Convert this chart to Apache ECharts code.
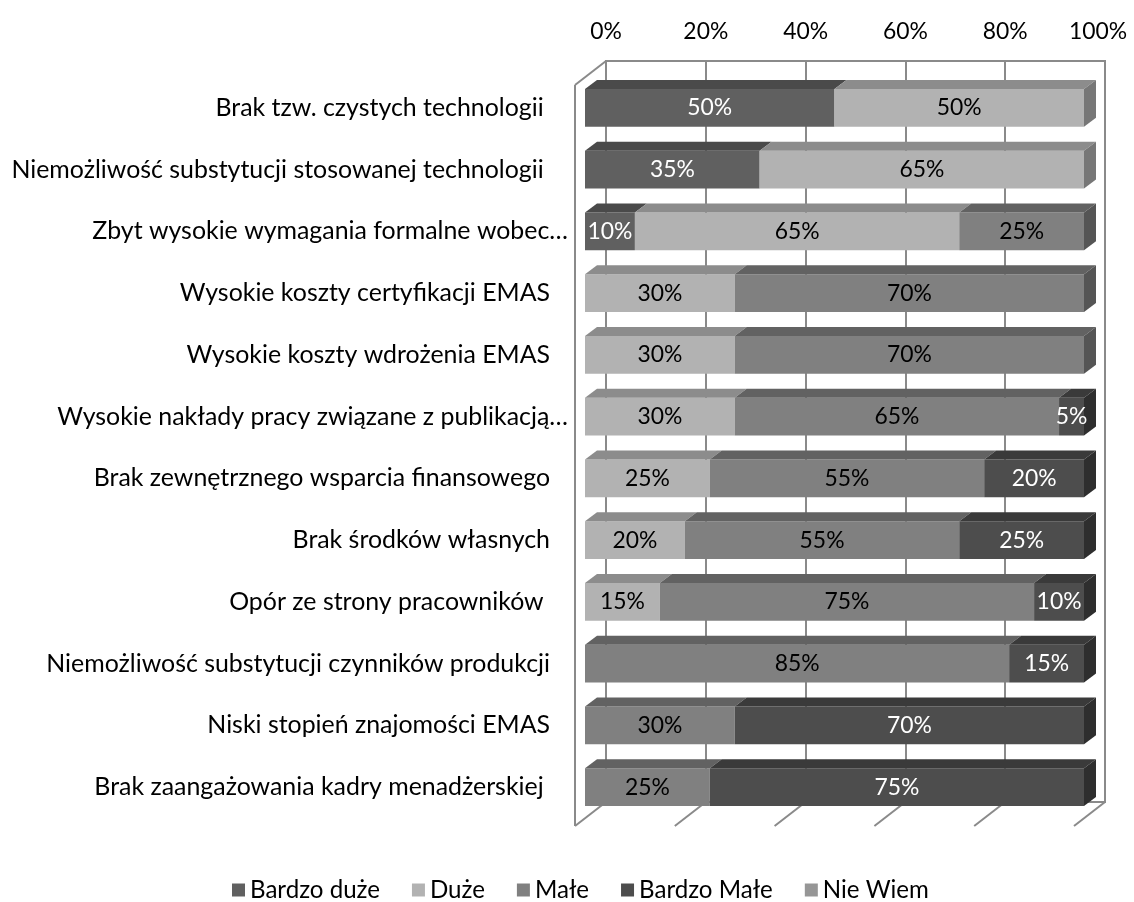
<!DOCTYPE html>
<html>
<head>
<meta charset="utf-8">
<script src="https://cdn.jsdelivr.net/npm/echarts@6/dist/echarts.min.js"></script>
<style>
html,body{margin:0;padding:0;background:#fff;}
#chart{width:1134px;height:902px;}
</style>
</head>
<body>
<div id="chart"></div>
<script>
// ---------- data ----------
const categories = [
  'Brak tzw. czystych technologii ',
  'Niemożliwość substytucji stosowanej technologii ',
  'Zbyt wysokie wymagania formalne wobec…',
  'Wysokie koszty certyfikacji EMAS',
  'Wysokie koszty wdrożenia EMAS',
  'Wysokie nakłady pracy związane z publikacją…',
  'Brak zewnętrznego wsparcia finansowego',
  'Brak środków własnych',
  'Opór ze strony pracowników ',
  'Niemożliwość substytucji czynników produkcji',
  'Niski stopień znajomości EMAS',
  'Brak zaangażowania kadry menadżerskiej '
];
const seriesNames = ['Bardzo duże', 'Duże', 'Małe', 'Bardzo Małe', 'Nie Wiem'];
const bardzoDuze = [50, 35, 10, 0, 0, 0, 0, 0, 0, 0, 0, 0];
const duze       = [50, 65, 65, 30, 30, 30, 25, 20, 15, 0, 0, 0];
const male       = [0, 0, 25, 70, 70, 65, 55, 55, 75, 85, 30, 25];
const bardzoMale = [0, 0, 0, 0, 0, 5, 20, 25, 10, 15, 70, 75];
const nieWiem    = [0, 0, 0, 0, 0, 0, 0, 0, 0, 0, 0, 0];
const axisTicks  = [0, 20, 40, 60, 80, 100];

// ---------- styles ----------
const FONT = 'Lato';
const palette = [
  {face: '#606060', top: '#4a4a4a', side: '#3e3e3e', text: '#ffffff'},
  {face: '#b2b2b2', top: '#8c8c8c', side: '#777777', text: '#000000'},
  {face: '#808080', top: '#626262', side: '#555555', text: '#000000'},
  {face: '#4d4d4d', top: '#3a3a3a', side: '#2e2e2e', text: '#ffffff'},
  {face: '#969696', top: '#7a7a7a', side: '#666666', text: '#000000'}
];
const FACE = {left: 585, top: 77, width: 499, height: 741};
const FRONT_OFF = [-10, 8];
const WALL_DEPTH = [31, -24];
const BAR_DEPTH = [12, -9];
const LINE = '#8a8a8a';

function fitSize(text, target) {
  const c = document.createElement('canvas').getContext('2d');
  c.font = '100px ' + FONT;
  return Math.round(100 * target / c.measureText(text).width * 10) / 10;
}
const catSize = fitSize('Niemożliwość substytucji stosowanej technologii', 532);
const legSize = fitSize('Bardzo duże', 130);
const valSize = fitSize('50%', 45);
const axSize = valSize;

const allSeries = [bardzoDuze, duze, male, bardzoMale, nieWiem];
const rowTotal = categories.map((_, i) => allSeries.reduce((a, s) => a + s[i], 0));

function stackData(k) {
  const out = [];
  categories.forEach((_, i) => {
    let start = 0;
    for (let j = 0; j < k; j++) start += allSeries[j][i];
    const v = allSeries[k][i];
    if (v > 0) out.push([start, start + v, i, v]);
  });
  return out;
}

function barRender(k) {
  const col = palette[k];
  return function (params, api) {
    const s = api.value(0), e = api.value(1), c = api.value(2), v = api.value(3);
    const p0 = api.coord([s, c]), p1 = api.coord([e, c]);
    const band = api.size([0, 1])[1];
    const h = band * 0.615;
    const yT = p0[1] - h / 2;
    const dx = BAR_DEPTH[0], dy = BAR_DEPTH[1];
    const children = [
      {type: 'rect', shape: {x: p0[0], y: yT, width: p1[0] - p0[0], height: h}, style: {fill: col.face}},
      {type: 'polygon', shape: {points: [[p0[0], yT], [p1[0], yT], [p1[0] + dx, yT + dy], [p0[0] + dx, yT + dy]]}, style: {fill: col.top}}
    ];
    if (Math.abs(e - rowTotal[c]) < 1e-9) {
      children.push({type: 'polygon', shape: {points: [[p1[0], yT], [p1[0] + dx, yT + dy], [p1[0] + dx, yT + h + dy], [p1[0], yT + h]]}, style: {fill: col.side}});
    }
    children.push({type: 'text', style: {text: v + '%', x: (p0[0] + p1[0]) / 2, y: p0[1], align: 'center', verticalAlign: 'middle', fill: col.text, font: valSize + 'px ' + FONT}});
    return {type: 'group', children: children};
  };
}

function wallRender(params, api) {
  const band = api.size([0, 1])[1];
  const c0 = api.coord([0, 0]);
  const cN = api.coord([0, categories.length - 1]);
  const yTop = c0[1] - band / 2 + FRONT_OFF[1];
  const yBot = cN[1] + band / 2 + FRONT_OFF[1];
  const fx = v => api.coord([v, 0])[0] + FRONT_OFF[0];
  const ls = {stroke: LINE, lineWidth: 2};
  const children = [
    {type: 'line', shape: {x1: fx(0), y1: yTop, x2: fx(0), y2: yBot}, style: ls},
    {type: 'line', shape: {x1: fx(0), y1: yTop, x2: fx(0) + WALL_DEPTH[0], y2: yTop + WALL_DEPTH[1]}, style: ls}
  ];
  axisTicks.forEach(t => {
    children.push({type: 'line', shape: {x1: fx(t), y1: yBot, x2: fx(t) + WALL_DEPTH[0], y2: yBot + WALL_DEPTH[1]}, style: ls});
  });
  return {type: 'group', children: children};
}

const chart = echarts.init(document.getElementById('chart'), null, {renderer: 'canvas'});

const series = [
  {type: 'custom', name: '__walls', xAxisIndex: 0, yAxisIndex: 0, z: 1, silent: true,
   renderItem: wallRender, data: [[0, 0]], encode: {x: 0, y: 1}}
];
seriesNames.forEach((n, k) => {
  series.push({
    type: 'custom', name: n, xAxisIndex: 0, yAxisIndex: 0, z: 2,
    itemStyle: {color: palette[k].face},
    renderItem: barRender(k), data: stackData(k), encode: {x: [0, 1], y: 2}
  });
});

const truncated = new Set([2, 5]);

chart.setOption({
  animation: false,
  backgroundColor: '#ffffff',
  textStyle: {fontFamily: FONT},
  grid: [
    {left: FACE.left, top: FACE.top, width: FACE.width, height: FACE.height},
    {left: FACE.left + FRONT_OFF[0] + WALL_DEPTH[0], top: FACE.top + FRONT_OFF[1] + WALL_DEPTH[1],
     width: FACE.width, height: FACE.height, show: true, borderColor: LINE, borderWidth: 2, backgroundColor: 'transparent'}
  ],
  xAxis: [
    {type: 'value', gridIndex: 0, min: 0, max: 100, interval: 20, show: false},
    {type: 'value', gridIndex: 1, position: 'top', min: 0, max: 100, interval: 20,
     axisLine: {show: false}, axisTick: {show: false},
     splitLine: {show: true, lineStyle: {color: LINE, width: 2}},
     axisLabel: {
       color: '#000', fontSize: axSize, fontFamily: FONT, margin: 18,
       formatter: v => v === 100 ? '{e|' + v + '%}' : '{m|' + v + '%}',
       rich: {
         m: {fontSize: axSize, fontFamily: FONT, color: '#000'},
         e: {fontSize: axSize, fontFamily: FONT, color: '#000', padding: [0, 14, 0, 0]}
       }
     }}
  ],
  yAxis: [
    {type: 'category', gridIndex: 0, inverse: true, data: categories,
     axisLine: {show: false}, axisTick: {show: false}, splitLine: {show: false},
     axisLabel: {
       color: '#000', fontSize: catSize, fontFamily: FONT, margin: 17, interval: 0,
       formatter: (val, idx) => truncated.has(idx) ? '{t|' + val + '}' : '{n|' + val + '}',
       rich: {
         t: {fontSize: catSize, fontFamily: FONT, color: '#000'},
         n: {fontSize: catSize, fontFamily: FONT, color: '#000', padding: [0, 18, 0, 0]}
       }
     }},
    {type: 'value', gridIndex: 1, min: 0, max: 1, show: false}
  ],
  legend: {
    data: seriesNames, left: 232, top: 878, icon: 'rect', itemWidth: 13, itemHeight: 13, itemGap: 32,
    padding: 0, selectedMode: false,
    textStyle: {color: '#000', fontSize: legSize, fontFamily: FONT}
  },
  series: series
});
</script>
</body>
</html>
